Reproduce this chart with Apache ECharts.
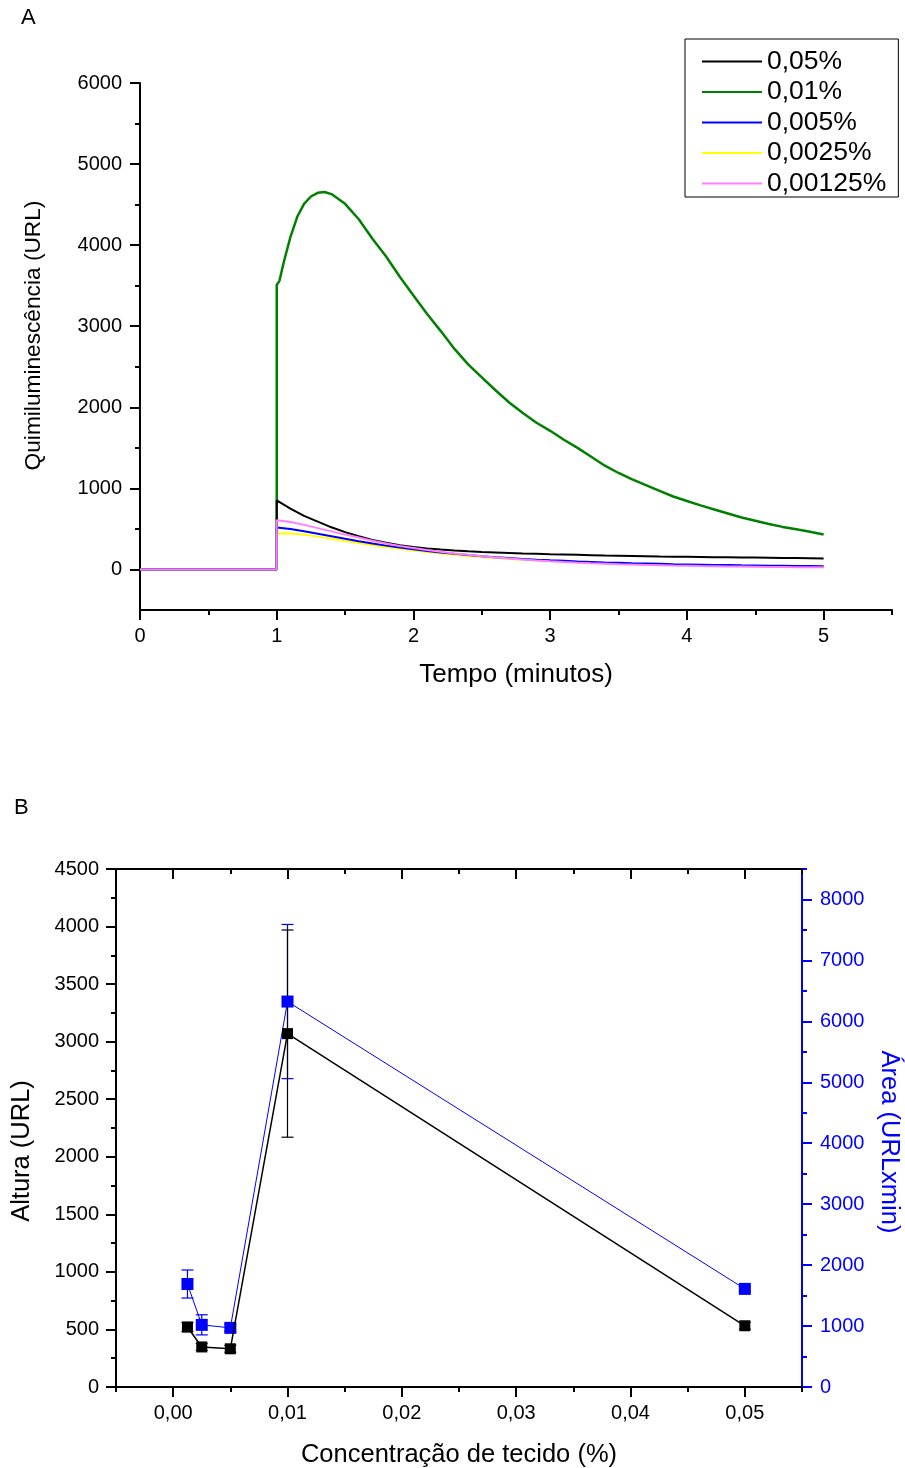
<!DOCTYPE html>
<html><head><meta charset="utf-8">
<script src="https://cdn.jsdelivr.net/npm/echarts@6/dist/echarts.min.js"></script>
<style>html,body{margin:0;padding:0;background:#fff}#c{width:905px;height:1468px}</style>
</head><body><div id="c"></div>
<script>
// ---------- Panel A data ----------
const seriesNamesA = ['0,05%', '0,01%', '0,005%', '0,0025%', '0,00125%'];
const tSmall = [0, 1, 1, 1.1, 1.2, 1.3, 1.4, 1.5, 1.6, 1.7, 1.8, 1.9, 2, 2.1, 2.2, 2.3, 2.4, 2.5, 2.6, 2.7, 2.8, 2.9, 3, 3.1, 3.2, 3.3, 3.4, 3.5, 3.6, 3.7, 3.8, 3.9, 4, 4.1, 4.2, 4.3, 4.4, 4.5, 4.6, 4.7, 4.8, 4.9, 5];
const tGreen = [0, 1, 1, 1.02, 1.05, 1.1, 1.15, 1.2, 1.25, 1.3, 1.35, 1.4, 1.5, 1.6, 1.7, 1.8, 1.9, 2, 2.1, 2.2, 2.3, 2.4, 2.5, 2.6, 2.7, 2.8, 2.9, 3, 3.1, 3.2, 3.3, 3.4, 3.5, 3.6, 3.7, 3.8, 3.9, 4, 4.1, 4.2, 4.3, 4.4, 4.5, 4.6, 4.7, 4.8, 4.9, 5];
const c005 = [0, 0, 853, 750, 660, 590, 520, 460, 410, 365, 330, 298, 276, 260, 246, 234, 224, 216, 210, 204, 198, 193, 188, 184, 180, 176, 172, 169, 166, 163, 160, 158, 156, 154, 152, 150, 148, 146, 144, 142, 140, 138, 136];
const c001 = [0, 0, 3510, 3560, 3780, 4100, 4350, 4510, 4600, 4645, 4655, 4630, 4510, 4320, 4080, 3860, 3610, 3380, 3150, 2940, 2720, 2530, 2370, 2210, 2060, 1930, 1810, 1710, 1600, 1500, 1390, 1280, 1190, 1110, 1040, 970, 900, 845, 790, 740, 690, 640, 600, 560, 525, 495, 465, 430];
const c0005 = [0, 0, 517, 500, 470, 440, 410, 378, 348, 320, 294, 270, 248, 228, 210, 193, 178, 164, 151, 140, 130, 121, 113, 106, 99, 93, 87, 82, 77, 73, 69, 65, 62, 59, 56, 54, 51, 49, 47, 45, 43, 42, 41];
const c00025 = [0, 0, 443, 445, 430, 405, 380, 352, 326, 300, 276, 254, 233, 214, 197, 181, 166, 153, 141, 130, 120, 111, 103, 96, 89, 83, 77, 72, 67, 63, 59, 55, 52, 49, 46, 44, 41, 39, 37, 35, 33, 31, 30];
const c000125 = [0, 0, 607, 585, 550, 510, 470, 430, 395, 355, 320, 290, 265, 240, 218, 198, 180, 163, 148, 134, 122, 111, 101, 92, 84, 77, 71, 65, 60, 56, 52, 48, 45, 42, 40, 37, 35, 33, 31, 30, 28, 27, 26];
const xTicksA = [0, 1, 2, 3, 4, 5];
const xMinorA = [0.5, 1.5, 2.5, 3.5, 4.5, 5.5];
const yTicksA = [0, 1000, 2000, 3000, 4000, 5000, 6000];
const yMinorA = [500, 1500, 2500, 3500, 4500, 5500];

// ---------- Panel B data ----------
const concX = [0.00125, 0.0025, 0.005, 0.01, 0.05];
const altura = [521, 348, 332, 3070, 532];
const alturaErr = [40, 30, 30, 900, 30];
const area = [1690, 1020, 970, 6325, 1610];
const areaErr = [230, 165, 60, 1265, 40];
const xTicksB = [0, 0.01, 0.02, 0.03, 0.04, 0.05];
const xMinorB = [-0.005, 0.005, 0.015, 0.025, 0.035, 0.045, 0.055];
const yTicksB = [0, 500, 1000, 1500, 2000, 2500, 3000, 3500, 4000, 4500];
const yMinorB = [250, 750, 1250, 1750, 2250, 2750, 3250, 3750, 4250];
const y2TicksB = [0, 1000, 2000, 3000, 4000, 5000, 6000, 7000, 8000];
const y2MinorB = [500, 1500, 2500, 3500, 4500, 5500, 6500, 7500, 8500];

const FONT = "'Liberation Sans', Arial, sans-serif";
const colorsA = ['#000000', '#008000', '#0000ff', '#ffff00', '#ff80ff'];
const blue = '#0000ff';
const TICKFS = 20;

const zip = (xs, ys) => xs.map((x, i) => [x, ys[i]]);
const fmtB = v => v.toFixed(2).replace('.', ',');
const fmtInt = v => String(Math.round(v));

function axisBase(extra) {
  return Object.assign({
    type: 'value', splitLine: {show: false}, axisLine: {onZero: false, lineStyle: {color: '#000', width: 2}},
    axisTick: {lineStyle: {color: '#000', width: 2}}, axisLabel: {color: '#000', fontFamily: FONT, fontSize: TICKFS}
  }, extra);
}
function minorAxis(extra, vals, len, color, inside) {
  return Object.assign({
    type: 'value', splitLine: {show: false}, axisLine: {show: false, onZero: false},
    axisTick: {show: true, customValues: vals, length: len, inside: !!inside, lineStyle: {color: color || '#000', width: 2}},
    axisLabel: {show: false}
  }, extra);
}

function errSeries(xs, ys, es, color, xi, yi, z) {
  return {
    type: 'custom', xAxisIndex: xi, yAxisIndex: yi, z: z, silent: true,
    data: xs.map((x, i) => [x, ys[i] - es[i], ys[i] + es[i]]),
    encode: {x: 0, y: [1, 2]},
    renderItem(params, api) {
      const lo = api.coord([api.value(0), api.value(1)]);
      const hi = api.coord([api.value(0), api.value(2)]);
      const w = 6;
      const st = {stroke: color, lineWidth: 1.2};
      return {type: 'group', children: [
        {type: 'line', shape: {x1: lo[0], y1: lo[1], x2: hi[0], y2: hi[1]}, style: st},
        {type: 'line', shape: {x1: lo[0] - w, y1: lo[1], x2: lo[0] + w, y2: lo[1]}, style: st},
        {type: 'line', shape: {x1: hi[0] - w, y1: hi[1], x2: hi[0] + w, y2: hi[1]}, style: st}
      ]};
    }
  };
}

const chart = echarts.init(document.getElementById('c'), null, {renderer: 'canvas'});
const lineA = (name, t, v, color, z, w) => ({
  name: name, type: 'line', xAxisIndex: 0, yAxisIndex: 0, data: zip(t, v), symbol: 'none', z: z,
  lineStyle: {color: color, width: w || 2}, itemStyle: {color: color}
});

chart.setOption({
  animation: false,
  backgroundColor: '#fff',
  graphic: [
    {type: 'text', left: 21, top: 7, style: {text: 'A', font: '22px ' + FONT, fill: '#000'}},
    {type: 'text', left: 14, top: 797, style: {text: 'B', font: '22px ' + FONT, fill: '#000'}}
  ],
  legend: {
    data: seriesNamesA, orient: 'vertical', left: 685, top: 39, icon: 'rect', itemWidth: 60, itemHeight: 2,
    itemGap: 3.5, padding: [9, 12, 0, 17], borderColor: '#000', borderWidth: 1,
    textStyle: {fontFamily: FONT, fontSize: 26.5, color: '#000', lineHeight: 26}
  },
  grid: [
    {left: 140, top: 83, width: 752, height: 527, outerBoundsMode: 'none', containLabel: false},
    {left: 116, top: 869, width: 686, height: 518, outerBoundsMode: 'none', containLabel: false}
  ],
  xAxis: [
    axisBase({gridIndex: 0, min: 0, max: 5.5, position: 'bottom',
      axisTick: {customValues: xTicksA, length: 10, lineStyle: {color: '#000', width: 2}},
      axisLabel: {customValues: xTicksA, formatter: fmtInt, color: '#000', fontFamily: FONT, fontSize: TICKFS, margin: 16},
      name: 'Tempo (minutos)', nameLocation: 'middle', nameGap: 52,
      nameTextStyle: {fontFamily: FONT, fontSize: 26, color: '#000'}}),
    minorAxis({gridIndex: 0, min: 0, max: 5.5, position: 'bottom'}, xMinorA, 5),
    axisBase({gridIndex: 1, min: -0.005, max: 0.055, position: 'bottom',
      axisTick: {customValues: xTicksB, length: 10, lineStyle: {color: '#000', width: 2}},
      axisLabel: {customValues: xTicksB, formatter: fmtB, color: '#000', fontFamily: FONT, fontSize: TICKFS, margin: 16},
      name: 'Concentração de tecido (%)', nameLocation: 'middle', nameGap: 55,
      nameTextStyle: {fontFamily: FONT, fontSize: 25.5, color: '#000'}}),
    minorAxis({gridIndex: 1, min: -0.005, max: 0.055, position: 'bottom'}, xMinorB, 5),
    axisBase({gridIndex: 1, min: -0.005, max: 0.055, position: 'top',
      axisTick: {customValues: xTicksB, length: 10, inside: true, lineStyle: {color: '#000', width: 2}},
      axisLabel: {show: false}}),
    minorAxis({gridIndex: 1, min: -0.005, max: 0.055, position: 'top'}, xMinorB, 5, '#000', true)
  ],
  yAxis: [
    axisBase({gridIndex: 0, min: -500, max: 6000, position: 'left',
      axisTick: {customValues: yTicksA, length: 10, lineStyle: {color: '#000', width: 2}},
      axisLabel: {customValues: yTicksA, formatter: fmtInt, color: '#000', fontFamily: FONT, fontSize: TICKFS, margin: 18},
      name: 'Quimiluminescência (URL)', nameLocation: 'middle', nameGap: 95, nameRotate: 90,
      nameTextStyle: {fontFamily: FONT, fontSize: 22.7, color: '#000', padding: [0, 0, 0, 22]}}),
    minorAxis({gridIndex: 0, min: -500, max: 6000, position: 'left'}, yMinorA, 5),
    axisBase({gridIndex: 1, min: 0, max: 4500, position: 'left',
      axisTick: {customValues: yTicksB, length: 10, lineStyle: {color: '#000', width: 2}},
      axisLabel: {customValues: yTicksB, formatter: fmtInt, color: '#000', fontFamily: FONT, fontSize: TICKFS, margin: 17},
      name: 'Altura (URL)', nameLocation: 'middle', nameGap: 81, nameRotate: 90,
      nameTextStyle: {fontFamily: FONT, fontSize: 25.5, color: '#000', padding: [0, 46, 0, 0]}}),
    minorAxis({gridIndex: 1, min: 0, max: 4500, position: 'left'}, yMinorB, 5),
    axisBase({gridIndex: 1, min: 0, max: 8500, position: 'right',
      axisLine: {onZero: false, lineStyle: {color: blue, width: 2}},
      axisTick: {customValues: y2TicksB, length: 10, lineStyle: {color: blue, width: 2}},
      axisLabel: {customValues: y2TicksB, formatter: fmtInt, color: blue, fontFamily: FONT, fontSize: TICKFS, margin: 18},
      name: 'Área (URLxmin)', nameLocation: 'middle', nameGap: 74, nameRotate: -90,
      nameTextStyle: {fontFamily: FONT, fontSize: 25.5, color: blue, padding: [0, 0, 0, 28]}}),
    minorAxis({gridIndex: 1, min: 0, max: 8500, position: 'right'}, y2MinorB, 5, blue)
  ],
  series: [
    lineA(seriesNamesA[1], tGreen, c001, colorsA[1], 2, 2.5),
    lineA(seriesNamesA[0], tSmall, c005, colorsA[0], 3),
    lineA(seriesNamesA[3], tSmall, c00025, colorsA[3], 4),
    lineA(seriesNamesA[2], tSmall, c0005, colorsA[2], 5),
    lineA(seriesNamesA[4], tSmall, c000125, colorsA[4], 6),
    errSeries(concX, area, areaErr, blue, 2, 4, 2),
    errSeries(concX, altura, alturaErr, '#000', 2, 2, 3),
    {name: 'Área', type: 'line', xAxisIndex: 2, yAxisIndex: 4, data: zip(concX, area), z: 4,
      symbol: 'rect', symbolSize: 12, lineStyle: {color: blue, width: 1}, itemStyle: {color: blue}},
    {name: 'Altura', type: 'line', xAxisIndex: 2, yAxisIndex: 2, data: zip(concX, altura), z: 5,
      symbol: 'rect', symbolSize: 11, lineStyle: {color: '#000', width: 1.5}, itemStyle: {color: '#000'}}
  ]
});
</script></body></html>
